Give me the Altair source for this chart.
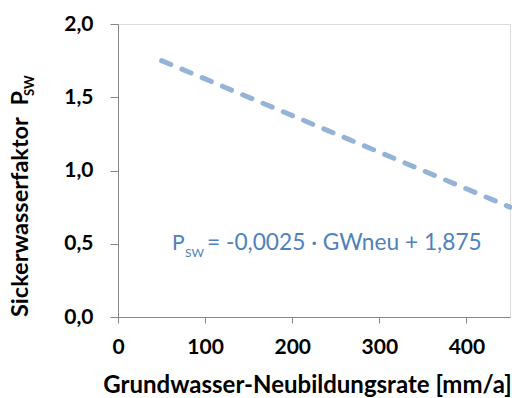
import altair as alt
import pandas as pd

# data
gw_neu = [50, 450]
p_sw = [1.75, 0.75]
x_ticks = [0, 100, 200, 300, 400]
y_ticks = [0.0, 0.5, 1.0, 1.5, 2.0]
eq_label_pos = [62, 0.5]

df = pd.DataFrame({"x": gw_neu, "y": p_sw})

FONT = "Lato"
AX = "#868686"
LINE = "#95B3D7"
TXT = "#4F81BD"

x_scale = alt.Scale(domain=[0, 450], nice=False, zero=True)
y_scale = alt.Scale(domain=[0, 2.0], nice=False)

line = alt.Chart(df).mark_line(
    color=LINE, strokeWidth=5, strokeDash=[10, 12], strokeCap="round"
).encode(
    x=alt.X("x:Q", scale=x_scale,
            axis=alt.Axis(values=x_ticks, title="Grundwasser-Neubildungsrate [mm/a]",
                          grid=False, domainColor=AX, tickColor=AX, tickSize=6,
                          labelFont=FONT, labelFontWeight="bold", labelFontSize=21,
                          labelColor="black", labelPadding=13,
                          titleFont=FONT, titleFontWeight="bold", titleFontSize=24,
                          titleColor="black", titlePadding=16, titleX=189,
                          titleAlign="center", labelFlush=False)),
    y=alt.Y("y:Q", scale=y_scale,
            axis=alt.Axis(values=y_ticks, title=None, grid=False,
                          domainColor=AX, tickColor=AX, tickSize=8,
                          labelExpr="replace(format(datum.value, '.1f'), '.', ',')",
                          labelFont=FONT, labelFontWeight="bold", labelFontSize=21,
                          labelColor="black", labelPadding=17)),
)

eq_df = pd.DataFrame({"x": [eq_label_pos[0]], "y": [eq_label_pos[1]]})
base_eq = alt.Chart(eq_df).encode(x=alt.X("x:Q", scale=x_scale), y=alt.Y("y:Q", scale=y_scale))
eq_p = base_eq.mark_text(text="P", font=FONT, fontSize=21, color=TXT,
                         align="left", baseline="alphabetic", dy=6)
eq_sub = base_eq.mark_text(text="SW", font=FONT, fontSize=12, color=TXT,
                           align="left", baseline="alphabetic", dx=13, dy=13)
eq_rest = base_eq.mark_text(text="= -0,0025 · GWneu + 1,875", font=FONT, fontSize=22.7,
                            color=TXT, align="left", baseline="alphabetic", dx=35, dy=6)

ytitle = alt.Chart(eq_df).mark_text(
    text="Sickerwasserfaktor\u2002P", font=FONT, fontWeight="bold", fontSize=23.5,
    color="black", angle=270, align="left", baseline="alphabetic"
).encode(x=alt.value(-90), y=alt.value(293))
ytitle_sub = alt.Chart(eq_df).mark_text(
    text="SW", font=FONT, fontWeight="bold", fontSize=13,
    color="black", angle=270, align="left", baseline="alphabetic"
).encode(x=alt.value(-84), y=alt.value(72))

chart = alt.layer(line, eq_p, eq_sub, eq_rest, ytitle, ytitle_sub).properties(
    width=392, height=293,
    autosize=alt.AutoSizeParams(type="none"),
    padding={"left": 118, "top": 24, "right": 2, "bottom": 81},
).configure_view(stroke=None).configure(background="white")

chart.save("out.html", embed_options={"renderer": "svg", "actions": False})
